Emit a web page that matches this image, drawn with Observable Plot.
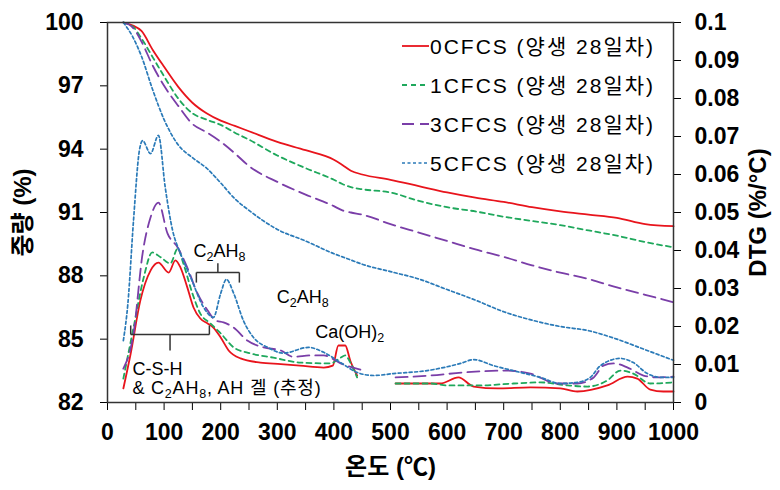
<!DOCTYPE html>
<html>
<head>
<meta charset="utf-8">
<script src="https://cdn.jsdelivr.net/npm/d3@7"></script>
<script src="https://cdn.jsdelivr.net/npm/@observablehq/plot@0.6"></script>
<style>
  body { margin: 0; background: #fff; }
  #chart { position: relative; width: 780px; height: 490px; }
  #legend { position: absolute; left: 0; top: 0; pointer-events: none; }
</style>
</head>
<body>
<div id="chart"></div>
<script>
// Series names and styles
const names = ["0CFCS (양생 28일차)", "1CFCS (양생 28일차)", "3CFCS (양생 28일차)", "5CFCS (양생 28일차)"];
const colors = ["#e8141c", "#1fa85c", "#7a3ea8", "#2a7ab8"];
const dashes = [null, "5,4", "12,6", "3,2.5"];
const widths = [1.8, 1.8, 1.8, 1.7];

// TG curves: mass (%) against temperature (°C)
const tgTemp = [28,45,60,80,100,125,150,175,200,225,250,300,350,400,415,430,450,500,550,600,650,700,750,800,850,900,950,1000];
const tg0 = [100,99.85,99.6,98.7,97.9,96.95,96.2,95.7,95.35,95.1,94.85,94.35,93.95,93.5,93.25,92.98,92.8,92.55,92.25,91.95,91.7,91.5,91.25,91.05,90.9,90.75,90.45,90.35];
const tg1 = [100,99.8,99.25,98.35,97.45,96.4,95.7,95.4,95.15,94.78,94.45,93.7,93.1,92.55,92.35,92.2,92.1,91.95,91.55,91.25,91.05,90.8,90.6,90.4,90.15,89.9,89.6,89.35];
const tg3 = [100,99.75,99.1,97.95,97.0,96.05,95.2,94.8,94.35,93.8,93.2,92.45,91.85,91.3,91.1,91.0,90.9,90.45,90.05,89.65,89.25,88.9,88.5,88.15,87.85,87.45,87.1,86.75];
const tg5 = [100,99.3,98.4,96.8,95.4,94.2,93.6,93.1,92.4,91.65,91.1,90.2,89.65,89.05,88.9,88.75,88.55,88.2,87.85,87.35,86.85,86.3,85.9,85.6,85.4,85.0,84.5,84.0];

// DTG curves (%/°C); null marks a break in the record
const dtgTemp0 = [28,41,58,76,90,108,120,129,141,152,164,177,187,200,214,235,270,306,340,382,398,408,420,429,441,475,509,588,620,647,690,747,800,830,883,919,936,959,982,1000];
const dtg0 = [0.0037,0.0129,0.0268,0.0347,0.0368,0.0342,0.0374,0.0355,0.0303,0.025,0.0221,0.0208,0.0197,0.0171,0.0137,0.0116,0.0105,0.0101,0.0097,0.0092,0.0097,0.015,0.015,0.011,0.0071,null,0.005,0.005,0.0066,0.0042,0.0037,0.004,0.0037,0.0029,0.0045,0.0068,0.0063,0.0034,0.0029,0.0029];
const dtgTemp1 = [28,46,64,79,94,111,124,134,150,164,182,200,223,253,293,341,394,412,420,429,441,475,509,571,600,659,717,765,813,848,883,906,929,959,1000];
const dtg1 = [0.0063,0.0197,0.0329,0.0395,0.0382,0.0366,0.0405,0.0366,0.0287,0.0234,0.0208,0.0182,0.0145,0.0129,0.0118,0.0105,0.0103,0.0118,0.0124,0.0105,0.0066,null,0.005,0.005,0.0045,0.0045,0.005,0.0053,0.0045,0.0042,0.0058,0.0084,0.0076,0.005,0.0053];
const dtgTemp3 = [28,46,62,76,90,106,124,141,159,177,191,205,223,247,276,306,329,359,382,412,450,480,509,571,629,707,747,795,830,859,876,894,919,947,971,1000];
const dtg3 = [0.0089,0.0182,0.0392,0.0487,0.0526,0.0445,0.0408,0.0355,0.0287,0.0242,0.0216,0.0211,0.0197,0.0163,0.0145,0.0137,0.012,0.0124,0.0124,0.0103,0.0085,null,0.0066,0.0071,0.0079,0.0084,0.0076,0.005,0.005,0.0066,0.0097,0.0103,0.0092,0.0071,0.0066,0.0068];
const dtgTemp5 = [28,36,46,56,62,76,90,102,115,129,147,170,187,200,210,223,240,258,283,311,355,382,412,441,470,505,565,624,647,682,730,765,800,830,853,871,906,929,954,977,1000];
const dtg5 = [0.0163,0.026,0.048,0.066,0.0689,0.0655,0.0703,0.0566,0.0453,0.0392,0.0329,0.025,0.0224,0.0287,0.0324,0.0287,0.0216,0.0171,0.0145,0.013,0.0145,0.0132,0.0105,0.0079,0.0071,0.0076,0.0084,0.0103,0.0113,0.0097,0.0079,0.0066,0.005,0.0053,0.0066,0.0097,0.0116,0.0105,0.0076,0.0066,0.0066];

// Axis ticks
const xTicks = d3.range(0, 1001, 50);
const tgTicks = [82, 85, 88, 91, 94, 97, 100];
const dtgTicks = d3.range(0, 11).map(k => k / 100);

// Peak annotations (temperature, mass-axis level)
const peakNotes = [
  {t: 198, v: 89.18, label: "C_2AH_8"},
  {t: 345, v: 86.97, label: "C_2AH_8"},
  {t: 428, v: 85.32, label: "Ca(OH)_2"}
];
const rangeNotes = [
  {t: 44, v: 83.58, label: "C-S-H"},
  {t: 44, v: 82.66, label: "& C_2AH_8, AH 겔 (추정)"}
];
// Brackets spanning decomposition ranges: from, to, level, arm end, centre tick end
const brackets = [
  {from: 157, to: 233, level: 88.16, arm: 87.68, tip: 88.6},
  {from: 41, to: 180, level: 85.22, arm: 85.65, tip: 84.46}
];

// DTG values share the mass axis: 0 → 82 %, 0.1 → 100 %
const yMin = 82, yMax = 100, dtgMax = 0.1;
const dtgToY = d => yMin + d * (yMax - yMin) / dtgMax;

const tgSets = [tg0, tg1, tg3, tg5];
const dtgSets = [[dtgTemp0, dtg0], [dtgTemp1, dtg1], [dtgTemp3, dtg3], [dtgTemp5, dtg5]];

const segs = brackets.flatMap(b => {
  const mid = (b.from + b.to) / 2;
  return [
    {x1: b.from, y1: b.level, x2: b.to, y2: b.level},
    {x1: b.from, y1: b.level, x2: b.from, y2: b.arm},
    {x1: b.to, y1: b.level, x2: b.to, y2: b.arm},
    {x1: mid, y1: b.level, x2: mid, y2: b.tip}
  ];
});

const FONT = "'Liberation Sans', Arial, 'Noto Sans CJK KR', sans-serif";

const lineMarks = [];
tgSets.forEach((vals, i) => {
  lineMarks.push(Plot.line(tgTemp.map((t, j) => ({t, v: vals[j]})), {
    x: "t", y: "v", stroke: colors[i], strokeWidth: widths[i],
    strokeDasharray: dashes[i] || undefined, curve: "monotone-x"
  }));
});
dtgSets.forEach(([temps, vals], i) => {
  lineMarks.push(Plot.line(temps.map((t, j) => ({t, v: vals[j] == null ? NaN : dtgToY(vals[j])})), {
    x: "t", y: "v", stroke: colors[i], strokeWidth: widths[i],
    strokeDasharray: dashes[i] || undefined, curve: "monotone-x"
  }));
});

const svg = Plot.plot({
  width: 780,
  height: 490,
  marginLeft: 107,
  marginRight: 107,
  marginTop: 22,
  marginBottom: 88,
  style: {fontFamily: FONT, fontSize: "23px", fontWeight: "bold", color: "#000", background: "#fff", overflow: "visible"},
  x: {domain: [0, 1000]},
  y: {domain: [yMin, yMax]},
  marks: [
    Plot.axisX({ticks: xTicks, tickSize: 8, tickPadding: 13,
      tickFormat: d => d % 100 === 0 ? String(d) : "",
      label: "온도 (℃)", labelAnchor: "center", labelOffset: 72, labelArrow: "none"}),
    Plot.axisY({anchor: "left", ticks: tgTicks, tickSize: 7, tickPadding: 17,
      label: "중량 (%)", labelAnchor: "center", labelOffset: 94, labelArrow: "none"}),
    Plot.axisY({anchor: "right", ticks: dtgTicks.map(dtgToY), tickSize: 7, tickPadding: 14,
      tickFormat: v => String(Math.round((v - yMin) / (yMax - yMin) * dtgMax * 100) / 100),
      label: "DTG (%/°C)", labelAnchor: "center", labelOffset: 92, labelArrow: "none"}),
    ...lineMarks,
    Plot.link(segs, {x1: "x1", y1: "y1", x2: "x2", y2: "y2", stroke: "#333", strokeWidth: 1.5}),
    Plot.text(peakNotes, {x: "t", y: "v", text: "label", textAnchor: "middle", fontSize: 18, fontWeight: "normal", fill: "#000"}),
    Plot.text(rangeNotes, {x: "t", y: "v", text: "label", textAnchor: "start", fontSize: 18, fontWeight: "normal", fill: "#000"}),
    Plot.frame({stroke: "#333", strokeWidth: 1.5})
  ]
});

// Larger axis titles
d3.select(svg).selectAll('g[aria-label$="axis label"] text').style("font-size", "24px");

// Chemical formula subscripts written as "_n"
d3.select(svg).selectAll("text").each(function () {
  const s = this.textContent;
  if (!s.includes("_")) return;
  const parts = s.split(/_(\d)/);
  const el = d3.select(this);
  el.text(null);
  parts.forEach((p, k) => {
    if (p === "") return;
    if (k % 2 === 1) {
      el.append("tspan").attr("dy", 4).attr("font-size", "12.5px").text(p);
    } else {
      el.append("tspan").attr("dy", k > 0 ? -4 : 0).text(p);
    }
  });
});
// Slightly wider spacing for the range description
d3.select(svg).selectAll("text").filter(function () { return this.textContent.startsWith("&"); })
  .style("letter-spacing", "0.8px");

const chart = document.getElementById("chart");
chart.appendChild(svg);

// Legend in the upper right of the plot area
const legend = d3.select(chart).append("svg").attr("id", "legend").attr("width", 780).attr("height", 200);
const rowY = [46, 85, 124, 163];
names.forEach((n, i) => {
  legend.append("line").attr("x1", 402).attr("x2", 429).attr("y1", rowY[i]).attr("y2", rowY[i])
    .attr("stroke", colors[i]).attr("stroke-width", widths[i]).attr("stroke-dasharray", dashes[i]);
  legend.append("text").attr("x", 430).attr("y", rowY[i]).attr("dy", "0.36em")
    .attr("font-family", FONT).attr("font-size", 21).attr("fill", "#000")
    .attr("textLength", 223).attr("lengthAdjust", "spacing")
    .text(n);
});
</script>
</body>
</html>
